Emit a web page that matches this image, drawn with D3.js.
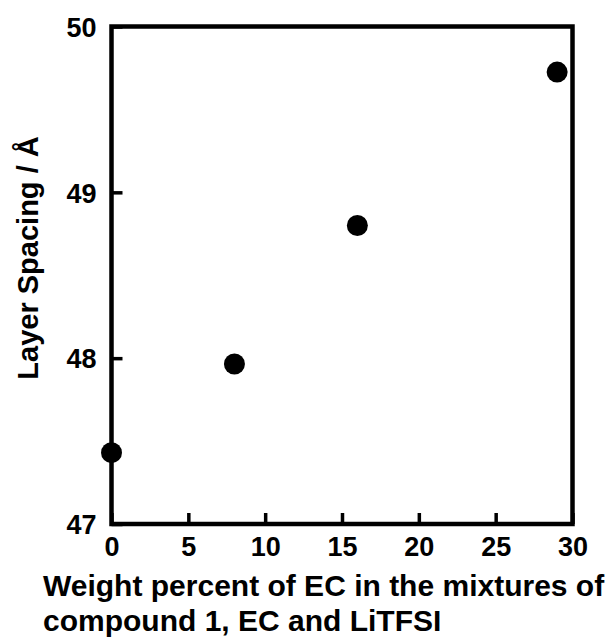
<!DOCTYPE html>
<html><head><meta charset="utf-8">
<script src="https://cdn.jsdelivr.net/npm/d3@7"></script>
<style>body{margin:0;background:#fff}svg{display:block}text{font-family:"Liberation Sans",Arial,sans-serif;font-weight:bold;fill:#000}</style>
</head><body>
<script>
const xValues = [0, 8, 16, 29];
const yValues = [47.43, 47.965, 48.80, 49.725];
const xTicks = [0, 5, 10, 15, 20, 25, 30];
const yTicks = [47, 48, 49, 50];
const xTitle = ["Weight percent of EC in the mixtures of", "compound 1, EC and LiTFSI"];
const yTitle = "Layer Spacing / Å";

const W = 615, H = 638;
const FONT = '"Liberation Sans",Arial,sans-serif';
const svg = d3.select("body").append("svg").attr("width", W).attr("height", H);
const x = d3.scaleLinear().domain([0, 30]).range([111.5, 572.5]);
const y = d3.scaleLinear().domain([47, 50]).range([524, 26.5]);

// frame
svg.append("rect").attr("x", x(0)).attr("y", y(50)).attr("width", x(30) - x(0)).attr("height", y(47) - y(50))
  .attr("fill", "none").attr("stroke", "#000").attr("stroke-width", 4.5);

const xa = svg.append("g").attr("transform", `translate(0,${y(47)})`)
  .call(d3.axisBottom(x).tickValues(xTicks).tickSize(-11).tickPadding(0).tickFormat(d3.format("d")));
xa.attr("font-family", FONT).attr("font-size", 27).attr("font-weight", "bold");
xa.select(".domain").remove();
xa.selectAll("line").attr("stroke-width", 3.5);
xa.selectAll("text").attr("y", 32).attr("dy", 0);

const ya = svg.append("g").attr("transform", `translate(${x(0)},0)`)
  .call(d3.axisLeft(y).tickValues(yTicks).tickSize(-11).tickPadding(0).tickFormat(d3.format("d")));
ya.attr("font-family", FONT).attr("font-size", 27).attr("font-weight", "bold");
ya.select(".domain").remove();
ya.selectAll("line").attr("stroke-width", 3.5);
ya.selectAll("text").attr("x", -15).attr("dy", "0.36em");

svg.append("g").selectAll("circle").data(xValues).join("circle")
  .attr("cx", d => x(d)).attr("cy", (d, i) => y(yValues[i])).attr("r", 10.5).attr("fill", "#000");

svg.append("text").attr("transform", "translate(38,258) rotate(-90)").attr("text-anchor", "middle")
  .attr("font-size", 29).text(yTitle);

svg.append("g").selectAll("text").data(xTitle).join("text")
  .attr("x", 43).attr("y", (d, i) => 596 + i * 35).attr("font-size", 30).text(d => d);
</script>
</body></html>
